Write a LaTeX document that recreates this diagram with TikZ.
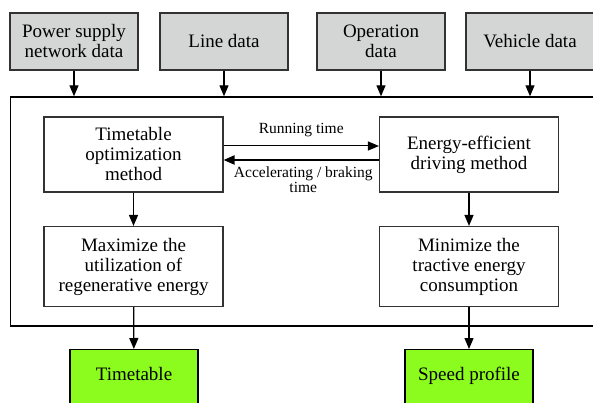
\documentclass[tikz,border=0pt]{standalone}
\usepackage{fontspec}
\setmainfont{Liberation Serif}[Ligatures=TeX]
\usetikzlibrary{arrows.meta}
\definecolor{inputgray}{RGB}{212, 214, 214}
\definecolor{outgreen}{RGB}{140, 252, 30}
\definecolor{edgegray}{RGB}{50, 50, 50}

\begin{document}
\begin{tikzpicture}[x=1pt, y=-1pt,
  >={Triangle[length=11pt, width=9pt]},
  font=\rmfamily\fontsize{19}{20}\selectfont,
  inbox/.style={draw=edgegray, line width=1.1pt, fill=inputgray,
    minimum width=128pt, minimum height=57pt, align=center, inner sep=2pt},
  methbox/.style={draw=edgegray, line width=1.1pt, fill=white,
    minimum width=179pt, minimum height=75pt, align=center, inner sep=2pt},
  goalbox/.style={methbox, minimum height=80pt},
  outbox/.style={draw=black, line width=1.1pt, fill=outgreen,
    minimum width=128pt, inner ysep=0pt, text height=31pt, text depth=39pt,
    anchor=north},
  flow/.style={->, line width=1.2pt},
  small/.style={font=\rmfamily\fontsize{15.5}{15}\selectfont, align=center}]

% page is 593 x 403, y grows downwards
\clip (0,0) rectangle (593,403);
\fill[white] (0,0) rectangle (593,403);

% ===== INPUT DATA =====
\node[inbox] (psn)  at (74,41.5)  {Power supply\\network data};
\node[inbox] (line) at (224,41.5) {Line data};
\node[inbox] (oper) at (381,41.5) {Operation\\data};
\node[inbox] (veh)  at (530,41.5) {Vehicle data};

% ===== FRAME (runs past the right edge) =====
\node[draw, line width=1.4pt, minimum width=600pt, minimum height=229pt,
  inner sep=0pt] (core) at (310.5,211.5) {};

\foreach \n in {psn, line, oper, veh}
  \draw[flow] (\n) -- (\n |- core.north);

% ===== METHODS =====
\node[methbox] (tom) at (133.5,154.5) {Timetable\\optimization\\method};
\node[methbox] (eed) at (469,154.5)   {Energy-efficient\\driving method};

\node[goalbox] (mru) at (133.5,266.5)
  {Maximize the\\utilization of\\regenerative energy};
\node[goalbox] (mtc) at (469,266.5)
  {Minimize the\\tractive energy\\consumption};

% exchange between the two methods
\draw[->, line width=1pt] ([yshift=8.5pt]tom.east) -- ([yshift=8.5pt]eed.west)
  node[small, midway, above=5pt] {Running time};
\draw[->, line width=2pt] ([yshift=-5.5pt]eed.west) -- ([yshift=-5.5pt]tom.east)
  node[small, midway, below=2pt, xshift=2pt] {Accelerating / braking\\time};

\draw[flow] (tom) -- (mru);
\draw[flow] (eed) -- (mtc);

% ===== OUTPUTS (cut by the bottom edge) =====
\node[outbox] (ttb) at (134,349) {Timetable};
\node[outbox] (spd) at (469,349) {Speed profile};

\draw[flow] (mru) -- (ttb);
\draw[flow] (mtc) -- (spd);

\end{tikzpicture}
\end{document}
